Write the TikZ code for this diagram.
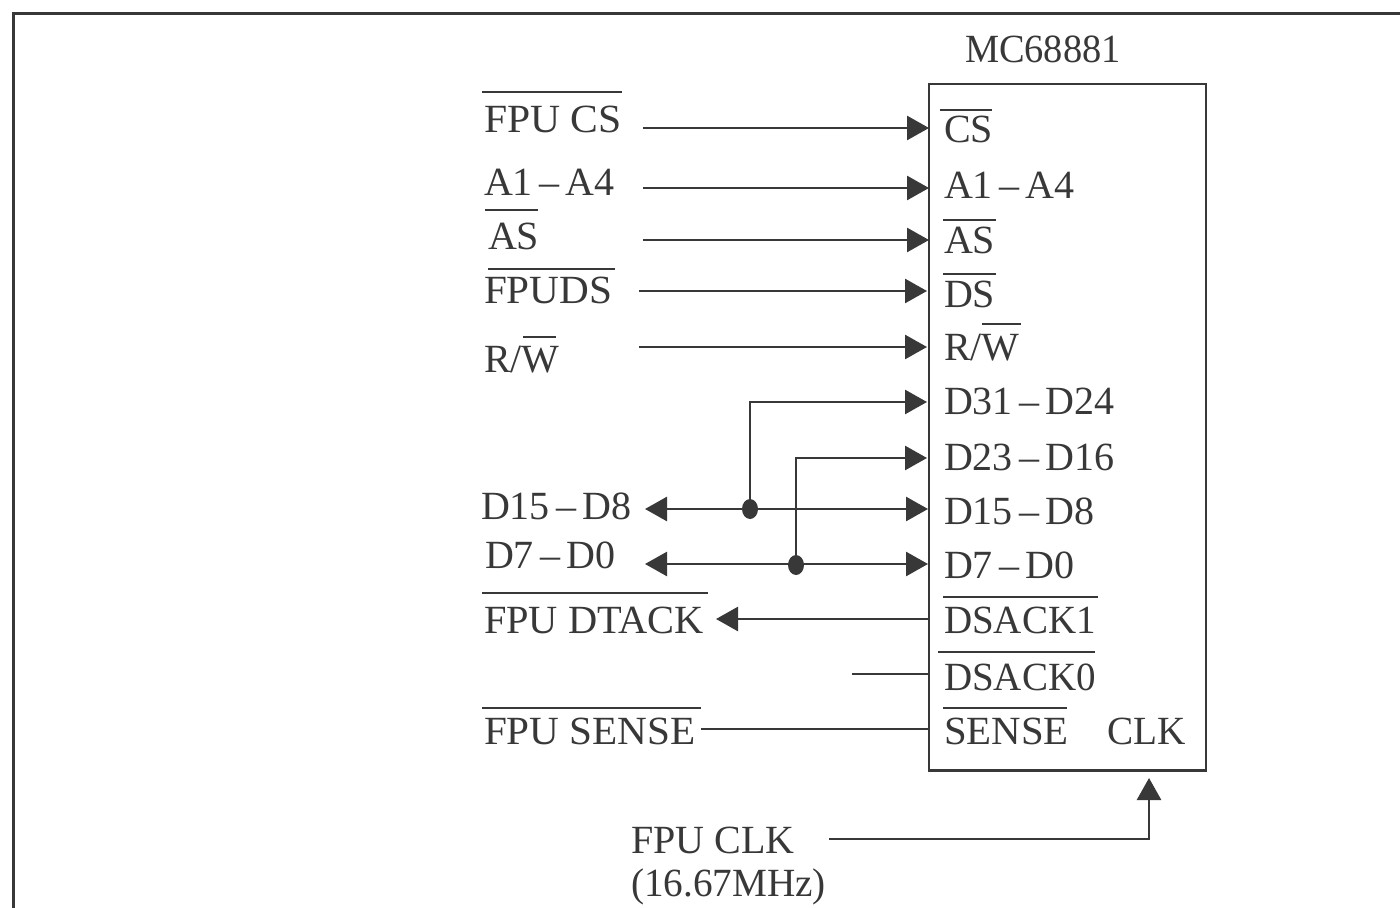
\documentclass[tikz,border=0pt]{standalone}
\usepackage{fontspec}
\usepackage{graphicx}
\setmainfont{Liberation Serif}
\usetikzlibrary{arrows.meta,shapes.geometric}
\definecolor{ink}{HTML}{383838}
\newcommand{\dsh}{\kern.16em–\kern.16em}
\newcommand{\sx}[2]{\scalebox{#1}[1]{#2}}
\tikzset{x=0.5pt,y=-0.5pt,
 txt/.style={anchor=base west,inner sep=0pt,outer sep=0pt,text=ink,font=\fontsize{20}{22}\selectfont},
 wire/.style={draw=ink,line width=1.35pt},
 arr/.style={wire,-{Triangle[length=11pt,width=12pt]}},
 barr/.style={wire,{Triangle[length=11pt,width=12pt]}-{Triangle[length=11pt,width=12pt]}},
 dotn/.style={ellipse,fill=ink,inner sep=0pt,minimum width=8pt,minimum height=10pt},
 ovl/.style={draw=ink,line width=1.3pt}}
\begin{document}
\begin{tikzpicture}
\useasboundingbox (0,0) rectangle (1400,908);
\fill[white] (0,0) rectangle (1400,908);
\draw[draw=ink,line width=1.5pt] (1400,14) -- (13,14) -- (13,908);
\node[draw=ink,line width=1.25pt,inner sep=0pt,outer sep=0pt,minimum width=138.5pt,minimum height=343.2pt,anchor=north west] (chip) at (929,84) {};
\node[txt] (title) at (965,62.5) {\sx{0.96}{MC68881}};
% left labels
\node[txt] (lcs) at (484,133) {\sx{1.04}{FPU CS}};
\node[txt] (la) at (484,196) {A1\dsh A4};
\node[txt] (las) at (488,250) {AS};
\node[txt] (lds) at (484,304) {\sx{1.03}{FPUDS}};
\node[txt] (lrw) at (484,372) {R/W};
\node[txt] (ld15) at (481,519) {D15\dsh D8};
\node[txt] (ld7) at (485,568) {D7\dsh D0};
\node[txt] (ldt) at (484,633) {\sx{1.01}{FPU DTACK}};
\node[txt] (lse) at (484,744) {\sx{1.03}{FPU SENSE}};
\node[txt] (lclk) at (631,853) {FPU CLK};
\node[txt] (lmhz) at (631,896) {\sx{0.98}{(16.67MHz)}};
% right labels
\node[txt] (rcs) at (944,143) {CS};
\node[txt] (ra) at (944,199) {A1\dsh A4};
\node[txt] (ras) at (944,254) {AS};
\node[txt] (rds) at (944,308) {DS};
\node[txt] (rrw) at (944,361) {R/W};
\node[txt] (r31) at (944,415) {D31\dsh D24};
\node[txt] (r23) at (944,470) {D23\dsh D16};
\node[txt] (r15) at (944,524) {D15\dsh D8};
\node[txt] (r7) at (944,578) {D7\dsh D0};
\node[txt] (rd1) at (944,633) {\sx{0.975}{DSACK1}};
\node[txt] (rd0) at (944,690) {\sx{0.975}{DSACK0}};
\node[txt] (rse) at (944,744) {\sx{1.02}{SENSE}};
\node[txt] (rclk) at (1107,744) {\sx{0.98}{CLK}};
% overbars
\draw[ovl] (482,92) -- (622,92);
\draw[ovl] (485,210) -- (538,210);
\draw[ovl] (488,269) -- (615,269);
\draw[ovl] (523,337) -- (556,337);
\draw[ovl] (482,593) -- (708,593);
\draw[ovl] (482,708) -- (701,708);
\draw[ovl] (940,110) -- (992,110);
\draw[ovl] (943,220) -- (996,220);
\draw[ovl] (943,274) -- (996,274);
\draw[ovl] (982,324) -- (1021,324);
\draw[ovl] (943,597) -- (1098,597);
\draw[ovl] (938,652) -- (1095,652);
\draw[ovl] (943,708) -- (1067,708);
% wire ends
\coordinate (acs) at (643,128); \coordinate (bcs) at (929,128);
\coordinate (aa) at (643,188); \coordinate (ba) at (929,188);
\coordinate (aas) at (643,240); \coordinate (bas) at (929,240);
\coordinate (ads) at (639,291); \coordinate (bds) at (927,291);
\coordinate (arw) at (639,347); \coordinate (brw) at (927,347);
\coordinate (b31) at (927,402); \coordinate (b23) at (927,458);
\coordinate (a15) at (645,509); \coordinate (b15) at (928,509);
\coordinate (a7) at (645,564); \coordinate (b7) at (928,564);
\coordinate (adt) at (716,619); \coordinate (bdt) at (929,619);
\coordinate (ad0) at (852,674); \coordinate (bd0) at (929,674);
\coordinate (ase) at (701,729); \coordinate (bse) at (929,729);
\coordinate (aclk) at (829,839); \coordinate (bclk) at (1149,778);
\draw[arr] (acs) -- (bcs);
\draw[arr] (aa) -- (ba);
\draw[arr] (aas) -- (bas);
\draw[arr] (ads) -- (bds);
\draw[arr] (arw) -- (brw);
\draw[barr] (a15) -- (b15);
\draw[barr] (a7) -- (b7);
\draw[arr] (bdt) -- (adt);
\draw[wire] (ad0) -- (bd0);
\draw[wire] (ase) -- (bse);
\draw[arr] (aclk) -| (bclk);
\node[dotn] (j1) at (750,509) {};
\node[dotn] (j2) at (796,565) {};
\draw[arr] (j1) |- (b31);
\draw[arr] (j2) |- (b23);
\end{tikzpicture}
\end{document}
